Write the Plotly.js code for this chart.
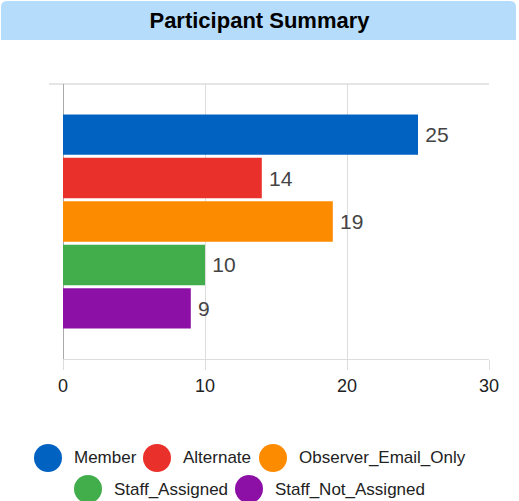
<!DOCTYPE html>
<html>
<head>
<meta charset="utf-8">
<script src="https://cdn.plot.ly/plotly-3.0.1.min.js"></script>
<style>html,body{margin:0;padding:0;background:#fff;}#chart{width:519px;height:501px;}</style>
</head>
<body>
<div id="chart"></div>
<script>
// ---- data ----
var category = ["Participants"];
var seriesNames = ["Member", "Alternate", "Observer_Email_Only", "Staff_Assigned", "Staff_Not_Assigned"];
var seriesValues = [25, 14, 19, 10, 9];
var seriesColors = ["#0262c2", "#ea302b", "#fd8b00", "#42ad4b", "#8c10a6"];
var xTickValues = [0, 10, 20, 30];
var chartTitle = "Participant Summary";

// ---- geometry (pixels) ----
var W = 519, H = 501;
var M = {l: 63, r: 30, t: 84, b: 142};
var PW = W - M.l - M.r, PH = H - M.t - M.b;
function px(x) { return (x - M.l) / PW; }
function py(y) { return (H - M.b - y) / PH; }

var FONT = "Arial, 'Liberation Sans', sans-serif";

var traces = seriesNames.map(function (name, i) {
  return {
    type: "bar",
    orientation: "h",
    name: name,
    y: category,
    x: [seriesValues[i]],
    marker: {color: seriesColors[i], line: {width: 0}},
    text: ["\u2009" + String(seriesValues[i])],
    textposition: "outside",
    constraintext: "none",
    cliponaxis: false,
    textfont: {family: FONT, size: 21, color: "#444444"},
    hoverinfo: "x+name",
    showlegend: false
  };
});

// manual legend (circle markers)
var legendPos = [
  {cx: 48, cy: 458, tx: 72},
  {cx: 157, cy: 458, tx: 181},
  {cx: 273, cy: 458, tx: 297},
  {cx: 88, cy: 489, tx: 112},
  {cx: 249, cy: 489, tx: 273}
];
var R = 14;
var shapes = [];
var annotations = [];

// title bar
var bx0 = px(1), bx1 = px(516), byT = py(1), byB = py(40);
var rx = 6 / PW, ry = 6 / PH;
shapes.push({
  type: "path", xref: "paper", yref: "paper", layer: "below",
  path: "M " + bx0 + " " + byB +
        " L " + bx0 + " " + (byT - ry) +
        " Q " + bx0 + " " + byT + " " + (bx0 + rx) + " " + byT +
        " L " + (bx1 - rx) + " " + byT +
        " Q " + bx1 + " " + byT + " " + bx1 + " " + (byT - ry) +
        " L " + bx1 + " " + byB + " Z",
  fillcolor: "#b5dcfb", line: {width: 0}
});
// top frame line (extends left past axis)
shapes.push({
  type: "line", xref: "paper", yref: "paper", layer: "below",
  x0: px(49), x1: 1, y0: 1, y1: 1,
  line: {color: "#cccccc", width: 1}
});

seriesNames.forEach(function (name, i) {
  var p = legendPos[i];
  shapes.push({
    type: "circle", xref: "paper", yref: "paper",
    xsizemode: "pixel", ysizemode: "pixel",
    xanchor: px(p.cx), yanchor: py(p.cy),
    x0: -R, x1: R, y0: -R, y1: R,
    fillcolor: seriesColors[i], line: {width: 0}
  });
  annotations.push({
    xref: "paper", yref: "paper",
    x: px(p.tx), y: py(p.cy),
    xanchor: "left", yanchor: "middle",
    text: name, showarrow: false,
    font: {family: FONT, size: 17, color: "#222222"}
  });
});

var layout = {
  width: W, height: H,
  margin: M,
  paper_bgcolor: "#ffffff",
  plot_bgcolor: "#ffffff",
  title: {
    text: "<b>" + chartTitle + "</b>",
    font: {family: FONT, size: 22, color: "#000000"},
    x: 0.5, xref: "container", xanchor: "center",
    y: 1 - 20 / H, yref: "container", yanchor: "middle"
  },
  barmode: "group",
  bargap: 0.21,
  bargroupgap: 0.07,
  showlegend: false,
  xaxis: {
    range: [0, 30],
    tickvals: xTickValues,
    ticktext: xTickValues.map(String),
    showgrid: true, gridcolor: "#dddddd", gridwidth: 1,
    zeroline: true, zerolinecolor: "#aaaaaa", zerolinewidth: 1,
    showline: true, linecolor: "#dddddd", linewidth: 1,
    ticks: "outside", ticklen: 10, tickcolor: "#dddddd",
    tickfont: {family: FONT, size: 18, color: "#222222"},
    fixedrange: true
  },
  yaxis: {
    type: "category",
    range: [0.5, -0.5],
    showticklabels: false,
    showgrid: false, zeroline: false, showline: false, ticks: "",
    fixedrange: true
  },
  shapes: shapes,
  annotations: annotations
};

Plotly.newPlot("chart", traces, layout, {displayModeBar: false, staticPlot: true});
</script>
</body>
</html>
